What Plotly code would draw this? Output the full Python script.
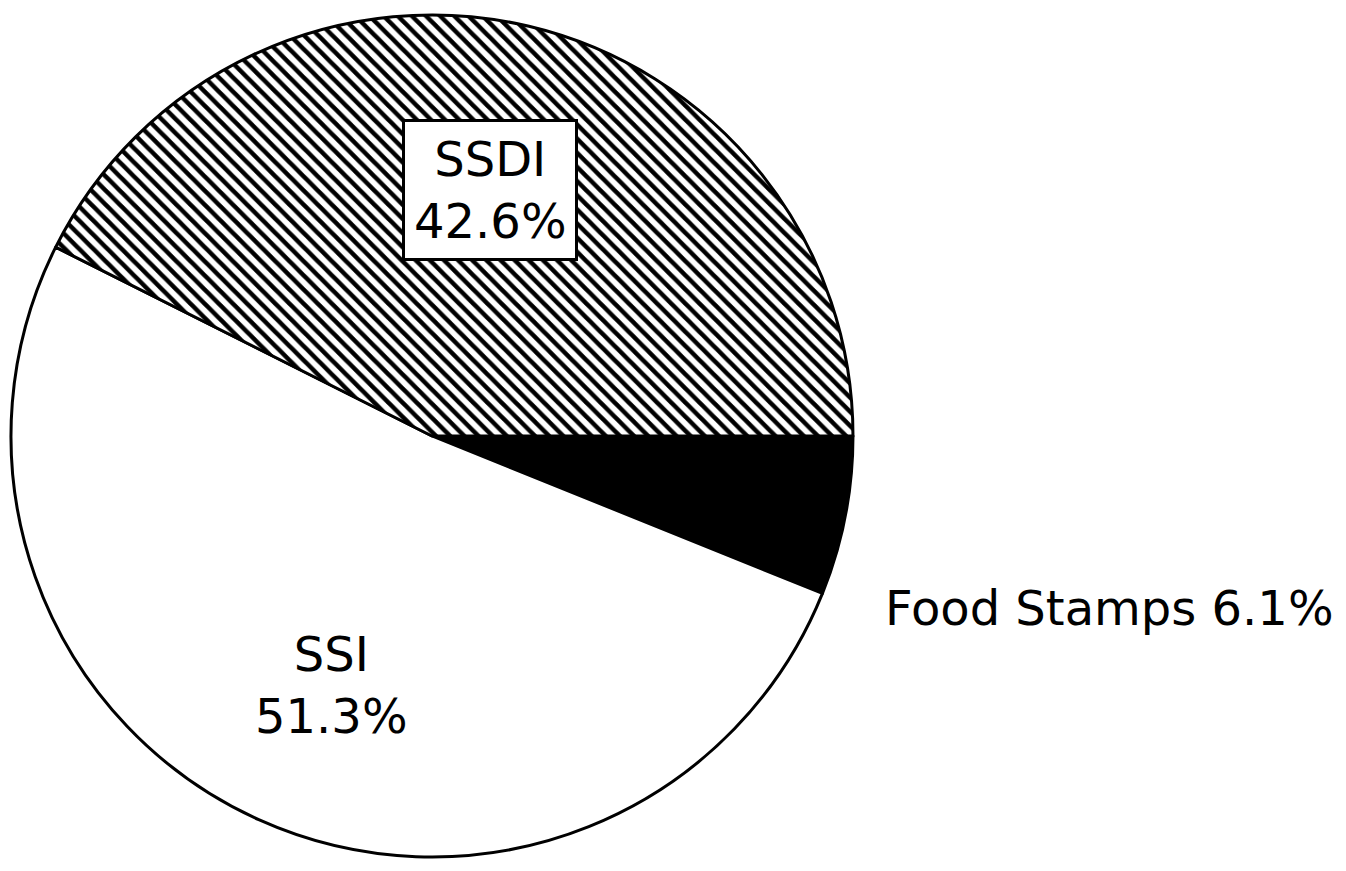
import plotly.graph_objects as go

# Share of benefits by program
programs = ["Food Stamps", "SSI", "SSDI"]
shares = [6.1, 51.3, 42.6]

fill_colors = ["black", "white", "white"]
patterns = ["", "", "\\"]

fig = go.Figure()

fig.add_trace(
    go.Pie(
        labels=programs,
        values=shares,
        sort=False,
        direction="clockwise",
        rotation=90,
        textinfo="none",
        hoverinfo="label+percent",
        marker=dict(
            colors=fill_colors,
            line=dict(color="black", width=3),
            pattern=dict(shape=patterns, fgcolor="black", bgcolor="white",
                         size=10, solidity=0.45),
        ),
        domain=dict(x=[0.0022, 0.6278], y=[0.0253, 0.992]),
        showlegend=False,
    )
)

label_font = dict(family="DejaVu Sans", size=48, color="black")

# SSDI label in a boxed frame
fig.add_annotation(
    x=0.3581, y=0.791, xref="paper", yref="paper",
    xanchor="center", yanchor="middle",
    text=f"{programs[2]}<br>{shares[2]}%",
    showarrow=False, font=label_font,
    bgcolor="white", bordercolor="black", borderwidth=3, borderpad=9,
)

fig.add_annotation(
    x=0.240, y=0.2227, xref="paper", yref="paper",
    xanchor="center", yanchor="middle",
    text=f"{programs[1]}<br>{shares[1]}%",
    showarrow=False, font=label_font,
)

fig.add_annotation(
    x=0.8187, y=0.3111, xref="paper", yref="paper",
    xanchor="center", yanchor="middle",
    text=f"{programs[0]} {shares[0]}%",
    showarrow=False, font=label_font,
)

fig.update_layout(
    width=1346, height=871,
    margin=dict(l=0, r=0, t=0, b=0),
    paper_bgcolor="white",
    plot_bgcolor="white",
)

fig.write_html("out.html")
